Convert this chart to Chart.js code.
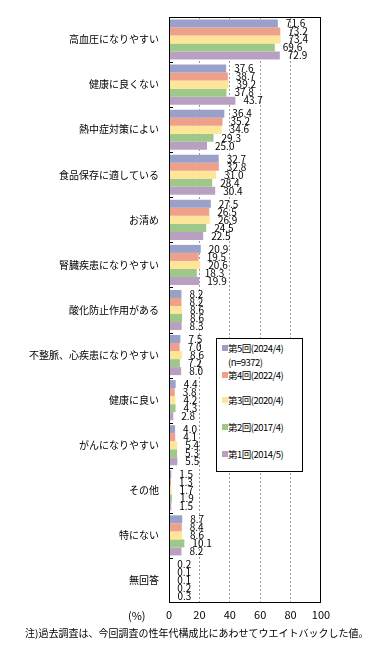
<!DOCTYPE html>
<html lang="ja">
<head>
<meta charset="utf-8">
<script src="https://cdn.jsdelivr.net/npm/chart.js@4"></script>
<style>
  body { margin: 0; background: #fff; }
  #wrap { position: relative; width: 388px; height: 658px; font-family: "Noto Sans CJK JP", sans-serif; color: #000; }
  #legend { position: absolute; left: 216px; top: 338px; width: 85px; height: 132px; border: 1px solid #000; background: #fff; font-size: 9.5px; }
  #legend div { position: absolute; left: 11px; line-height: 12px; white-space: nowrap; letter-spacing: -0.5px; }
  #legend span { position: absolute; left: -6px; top: 3px; width: 6px; height: 6px; }
  #unit { position: absolute; left: 128px; top: 608px; font-size: 11px; line-height: 14px; }
  #note { position: absolute; left: 25px; top: 626px; font-size: 10px; line-height: 14px; white-space: nowrap; }
</style>
</head>
<body>
<div id="wrap">
  <canvas id="myChart" width="388" height="658"></canvas>
  <div id="legend"></div>
  <div id="unit">(%)</div>
  <div id="note">注)過去調査は、今回調査の性年代構成比にあわせてウエイトバックした値。</div>
</div>
<script>
const categories = ['高血圧になりやすい', '健康に良くない', '熱中症対策によい', '食品保存に適している', 'お清め',
    '腎臓疾患になりやすい', '酸化防止作用がある', '不整脈、心疾患になりやすい', '健康に良い', 'がんになりやすい',
    'その他', '特にない', '無回答'];
const seriesNames = ['第5回(2024/4)', '第4回(2022/4)', '第3回(2020/4)', '第2回(2017/4)', '第1回(2014/5)'];
const round5 = [71.6, 37.6, 36.4, 32.7, 27.5, 20.9, 8.2, 7.5, 4.4, 4.0, 1.5, 8.7, 0.2];
const round4 = [73.2, 38.7, 35.2, 32.8, 26.5, 19.5, 8.2, 7.0, 3.8, 4.1, 1.3, 8.4, 0.1];
const round3 = [73.4, 39.2, 34.6, 31.0, 26.9, 20.6, 8.6, 8.6, 4.2, 5.4, 1.7, 8.6, 0.1];
const round2 = [69.6, 37.8, 29.3, 28.4, 24.5, 18.3, 8.6, 7.2, 4.3, 5.3, 1.9, 10.1, 0.2];
const round1 = [72.9, 43.7, 25.0, 30.4, 22.5, 19.9, 8.3, 8.0, 2.8, 5.5, 1.5, 8.2, 0.3];
const xTicks = [0, 20, 40, 60, 80, 100];
const sampleNote = '(n=9372)';

const seriesValues = [round5, round4, round3, round2, round1];
const colors = ['#9aa0c8', '#eea08b', '#ffe597', '#9dc88a', '#b9a0c2'];

// value labels, plot frame and the small category ticks
const extras = {
    id: 'extras',
    afterDatasetsDraw(chart) {
        const ctx = chart.ctx;
        const a = chart.chartArea;
        ctx.save();
        ctx.font = '10px "Noto Sans CJK JP"';
        ctx.fillStyle = '#000';
        ctx.textBaseline = 'middle';
        chart.data.datasets.forEach((ds, i) => {
            chart.getDatasetMeta(i).data.forEach((bar, j) => {
                ctx.fillText(ds.data[j].toFixed(1), bar.x + 8, bar.y);
            });
        });
        ctx.strokeStyle = '#000';
        ctx.lineWidth = 1;
        ctx.strokeRect(a.left + 0.5, a.top + 0.5, a.width - 1, a.height - 1);
        const y = chart.scales.y;
        for (let k = 1; k < categories.length; k++) {
            const py = Math.round((y.getPixelForValue(k - 1) + y.getPixelForValue(k)) / 2) + 0.5;
            ctx.beginPath();
            ctx.moveTo(a.left, py);
            ctx.lineTo(a.left + 4, py);
            ctx.stroke();
        }
        ctx.restore();
    }
};

new Chart(document.getElementById('myChart'), {
    type: 'bar',
    data: {
        labels: categories,
        datasets: seriesNames.map((name, i) => ({
            label: name,
            data: seriesValues[i],
            backgroundColor: colors[i],
            borderWidth: 0
        }))
    },
    options: {
        indexAxis: 'y',
        responsive: false,
        animation: false,
        layout: { padding: { top: 17, right: 67, left: 0, bottom: 0 } },
        datasets: { bar: { categoryPercentage: 0.89, barPercentage: 1 } },
        plugins: { legend: { display: false }, tooltip: { enabled: false } },
        scales: {
            x: {
                min: 0,
                max: 100,
                afterBuildTicks: (s) => { s.ticks = xTicks.map((v) => ({ value: v })); },
                ticks: { color: '#000', font: { size: 11, family: '"Noto Sans CJK JP"' }, padding: 5 },
                grid: {
                    drawTicks: false,
                    color: (c) => (c.tick && (c.tick.value === 0 || c.tick.value === 100)) ? 'rgba(0,0,0,0)' : '#9a9a9a'
                },
                border: { display: false, dash: [2, 2] },
                afterFit: (s) => { s.height = 55; }
            },
            y: {
                ticks: { color: '#000', font: { size: 10, family: '"Noto Sans CJK JP"' }, padding: 10 },
                grid: { display: false, drawTicks: false },
                border: { display: false },
                afterFit: (s) => { s.width = 169; }
            }
        }
    },
    plugins: [extras]
});

// legend box, with the sample size under the latest round
const legendBox = document.getElementById('legend');
const rowTops = [3, 30, 55, 82, 109];
seriesNames.forEach((name, i) => {
    const row = document.createElement('div');
    row.style.top = rowTops[i] + 'px';
    const mark = document.createElement('span');
    mark.style.background = colors[i];
    row.appendChild(mark);
    row.appendChild(document.createTextNode(name));
    legendBox.appendChild(row);
});
const nRow = document.createElement('div');
nRow.style.top = '17px';
nRow.textContent = sampleNote;
legendBox.appendChild(nRow);
</script>
</body>
</html>
